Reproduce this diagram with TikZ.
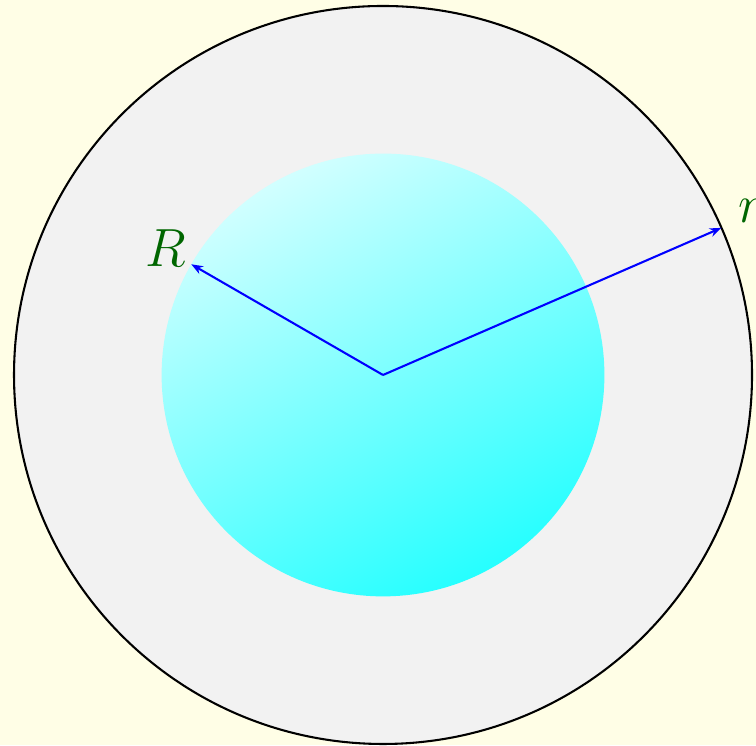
\documentclass[tikz,border=0pt]{standalone}
\usetikzlibrary{arrows.meta}

\begin{document}
\begin{tikzpicture}[
    font=\huge,
    disc/.style={draw=black, thick, fill=black!5},
    ball/.style={top color=cyan!18, bottom color=cyan!85, shading angle=28},
    radius arrow/.style={-{Stealth[length=4.5pt]}, blue, thick},
    lbl/.style={text=green!40!black, inner sep=2pt}
  ]
    % background and page size
    \fill[yellow!10] (-5.19,-5.014) rectangle (5.054,5.081);
    \useasboundingbox (-5.19,-5.014) rectangle (5.054,5.081);

    \draw[disc] (0,0) circle (5);
    \shade[ball] (0,0) circle (3);

    \coordinate (O) at (0,0);
    \coordinate (Rend) at (150:3);
    \coordinate (rend) at (23.5:5);
    \node[lbl, anchor=south east, yshift=-3pt] (Rlbl) at (Rend) {$R$};
    \node[lbl, anchor=south west, xshift=4.5pt] (rlbl) at (rend) {$r$};

    \draw[radius arrow] (O) -- (Rend);
    \draw[radius arrow] (O) -- (rend);
  \end{tikzpicture}
\end{document}
